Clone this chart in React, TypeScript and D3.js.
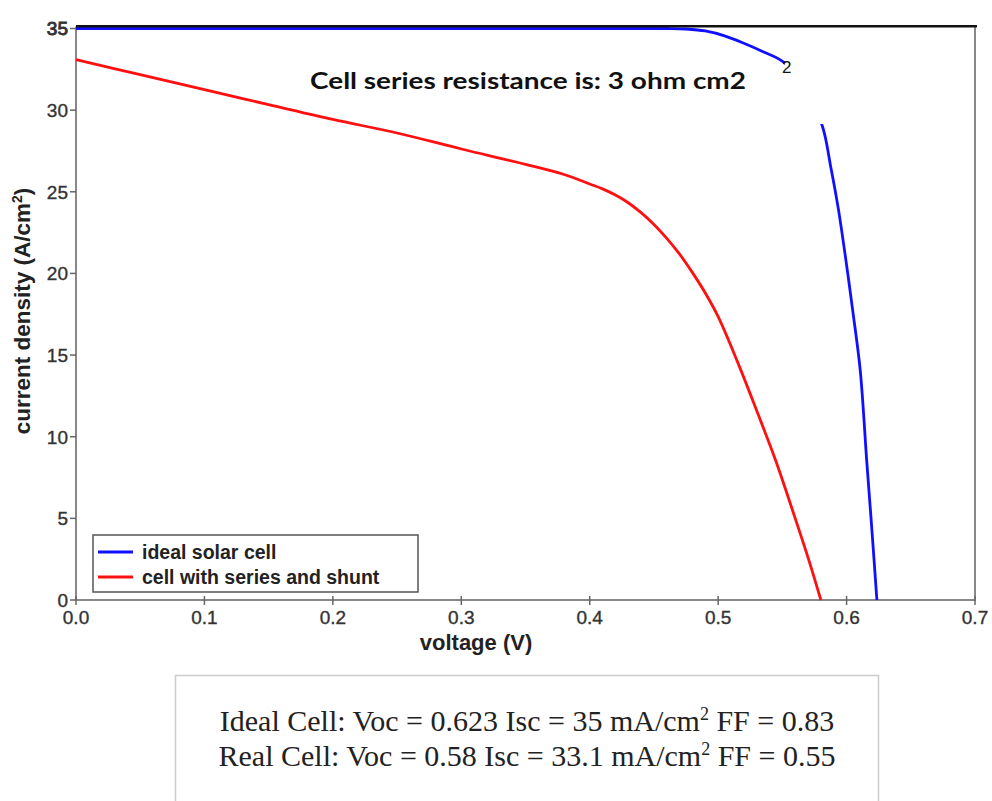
import React from "react";
import * as d3 from "d3";

const xTicks = [0, 0.1, 0.2, 0.3, 0.4, 0.5, 0.6, 0.7];
const yTicks = [0, 5, 10, 15, 20, 25, 30, 35];

const idealV = [0, 0.1, 0.2, 0.3, 0.4, 0.46, 0.475, 0.49, 0.505, 0.52, 0.535, 0.551, 0.566, 0.581, 0.5875, 0.5935, 0.5995, 0.605, 0.6106, 0.6158, 0.6198, 0.6236];
const idealJ = [35, 35, 35, 35, 35, 35, 34.97, 34.85, 34.55, 34.1, 33.58, 32.94, 31.5, 29.06, 26.6, 24.0, 20.8, 17.6, 14.1, 8.4, 4.2, 0];

const realV = [0, 0.05, 0.1, 0.15, 0.2, 0.25, 0.3, 0.35, 0.38, 0.4, 0.41, 0.42, 0.43, 0.44, 0.45, 0.46, 0.47, 0.48, 0.49, 0.5, 0.515, 0.53, 0.545, 0.56, 0.57, 0.58];
const realJ = [33.1, 32.17, 31.25, 30.34, 29.43, 28.6, 27.62, 26.68, 26.06, 25.48, 25.18, 24.8, 24.33, 23.72, 23.0, 22.15, 21.18, 20.05, 18.8, 17.35, 14.6, 11.6, 8.5, 5.0, 2.6, 0];

const seriesNames = ["ideal solar cell", "cell with series and shunt"];
const seriesColors = ["#1010ff", "#ff1010"];

const title = "Cell series resistance is: 3 ohm cm2";
const xLabel = "voltage (V)";

export default function App() {
  const left = 76, right = 975, top = 28.5, bottom = 600;
  const x = d3.scaleLinear().domain([0, 0.7]).range([left, right]);
  const y = d3.scaleLinear().domain([0, 35]).range([bottom, top]);
  const line = d3
    .line<[number, number]>()
    .x((d) => x(d[0]))
    .y((d) => y(d[1]))
    .curve(d3.curveCatmullRom.alpha(0.5));
  const ideal = idealV.map((v, i) => [v, idealJ[i]] as [number, number]);
  const real = realV.map((v, i) => [v, realJ[i]] as [number, number]);
  const axisFont = "'Liberation Sans', Arial, sans-serif";
  const serif = "'Liberation Serif', 'Times New Roman', serif";

  return (
    <svg width={992} height={801} style={{ position: "absolute", left: 0, top: 0, background: "#fff" }}>
      <rect x={0} y={0} width={992} height={801} fill="#fff" />
      {/* frame */}
      <line x1={right} x2={right} y1={top - 2} y2={bottom} stroke="#888" strokeWidth={2} />
      <line x1={left} x2={right + 1} y1={bottom} y2={bottom} stroke="#888" strokeWidth={2} />
      <line x1={left} x2={left} y1={top - 2} y2={bottom} stroke="#888" strokeWidth={2} />
      {/* curves */}
      <path d={line(real) || ""} fill="none" stroke={seriesColors[1]} strokeWidth={2.8} />
      <path d={line(ideal) || ""} fill="none" stroke={seriesColors[0]} strokeWidth={2.8} />
      <line x1={left} x2={right + 2} y1={top - 2.3} y2={top - 2.3} stroke="#111" strokeWidth={2.6} />
      {/* white text box hiding part of the ideal curve */}
      <rect x={x(0.5518)} y={y(32.9)} width={x(0.6) - x(0.5518)} height={y(29.15) - y(32.9)} fill="#fff" />
      <text x={782} y={73} fontFamily={axisFont} fontSize={17} fill="#111">2</text>
      {/* y ticks */}
      {yTicks.map((t) => (
        <g key={"y" + t}>
          <line x1={left - 6} x2={left} y1={y(t)} y2={y(t)} stroke="#666" strokeWidth={1.5} />
          <text x={left - 8} y={y(t)} dy="0.36em" textAnchor="end" fontFamily={axisFont} fontSize={19}
            fill="#333" stroke="#333" strokeWidth={t === 35 ? 0.9 : 0.35}>{t}</text>
        </g>
      ))}
      {/* x ticks */}
      {xTicks.map((t) => (
        <g key={"x" + t}>
          <line x1={x(t)} x2={x(t)} y1={bottom - 4} y2={bottom + 5} stroke="#666" strokeWidth={1.5} />
          <text x={x(t)} y={bottom + 24} textAnchor="middle" fontFamily={axisFont} fontSize={19} fill="#333"
            stroke="#333" strokeWidth={0.35}>
            {d3.format(".1f")(t)}
          </text>
        </g>
      ))}
      {/* axis labels */}
      <text x={476} y={650} textAnchor="middle" fontFamily={axisFont} fontWeight="bold" fontSize={22} fill="#222">
        {xLabel}
      </text>
      <text transform="translate(30,311) rotate(-90)" textAnchor="middle" fontFamily={axisFont} fontWeight="bold"
        fontSize={22.5} fill="#222">
        current density (A/cm<tspan dy="-8" fontSize={14}>2</tspan><tspan dy="8">)</tspan>
      </text>
      {/* title */}
      <text x={310} y={89} fontFamily="Lato, 'Open Sans', sans-serif" fontWeight="bold" fontSize={23.5} fill="#111"
        textLength={436} lengthAdjust="spacingAndGlyphs">{title}</text>
      {/* legend */}
      <rect x={93} y={535} width={325} height={57} fill="#fff" stroke="#555" strokeWidth={1.5} />
      {seriesNames.map((n, i) => (
        <g key={n}>
          <line x1={98} x2={133} y1={552 + i * 25} y2={552 + i * 25} stroke={seriesColors[i]} strokeWidth={3} />
          <text x={142} y={552 + i * 25} dy="0.36em" fontFamily={axisFont} fontWeight="bold" fontSize={19.5} fill="#222">{n}</text>
        </g>
      ))}
      {/* summary box */}
      <rect x={175.5} y={675.5} width={703} height={140} fill="#fff" stroke="#ccc" strokeWidth={1.5} />
      <text x={527} y={731} textAnchor="middle" fontFamily={serif} fontSize={30} fill="#222">
        Ideal Cell: Voc = 0.623 Isc = 35 mA/cm<tspan dy="-11" fontSize={18}>2</tspan><tspan dy="11"> FF = 0.83</tspan>
      </text>
      <text x={527} y={766} textAnchor="middle" fontFamily={serif} fontSize={30} fill="#222">
        Real Cell: Voc = 0.58 Isc = 33.1 mA/cm<tspan dy="-11" fontSize={18}>2</tspan><tspan dy="11"> FF = 0.55</tspan>
      </text>
    </svg>
  );
}
